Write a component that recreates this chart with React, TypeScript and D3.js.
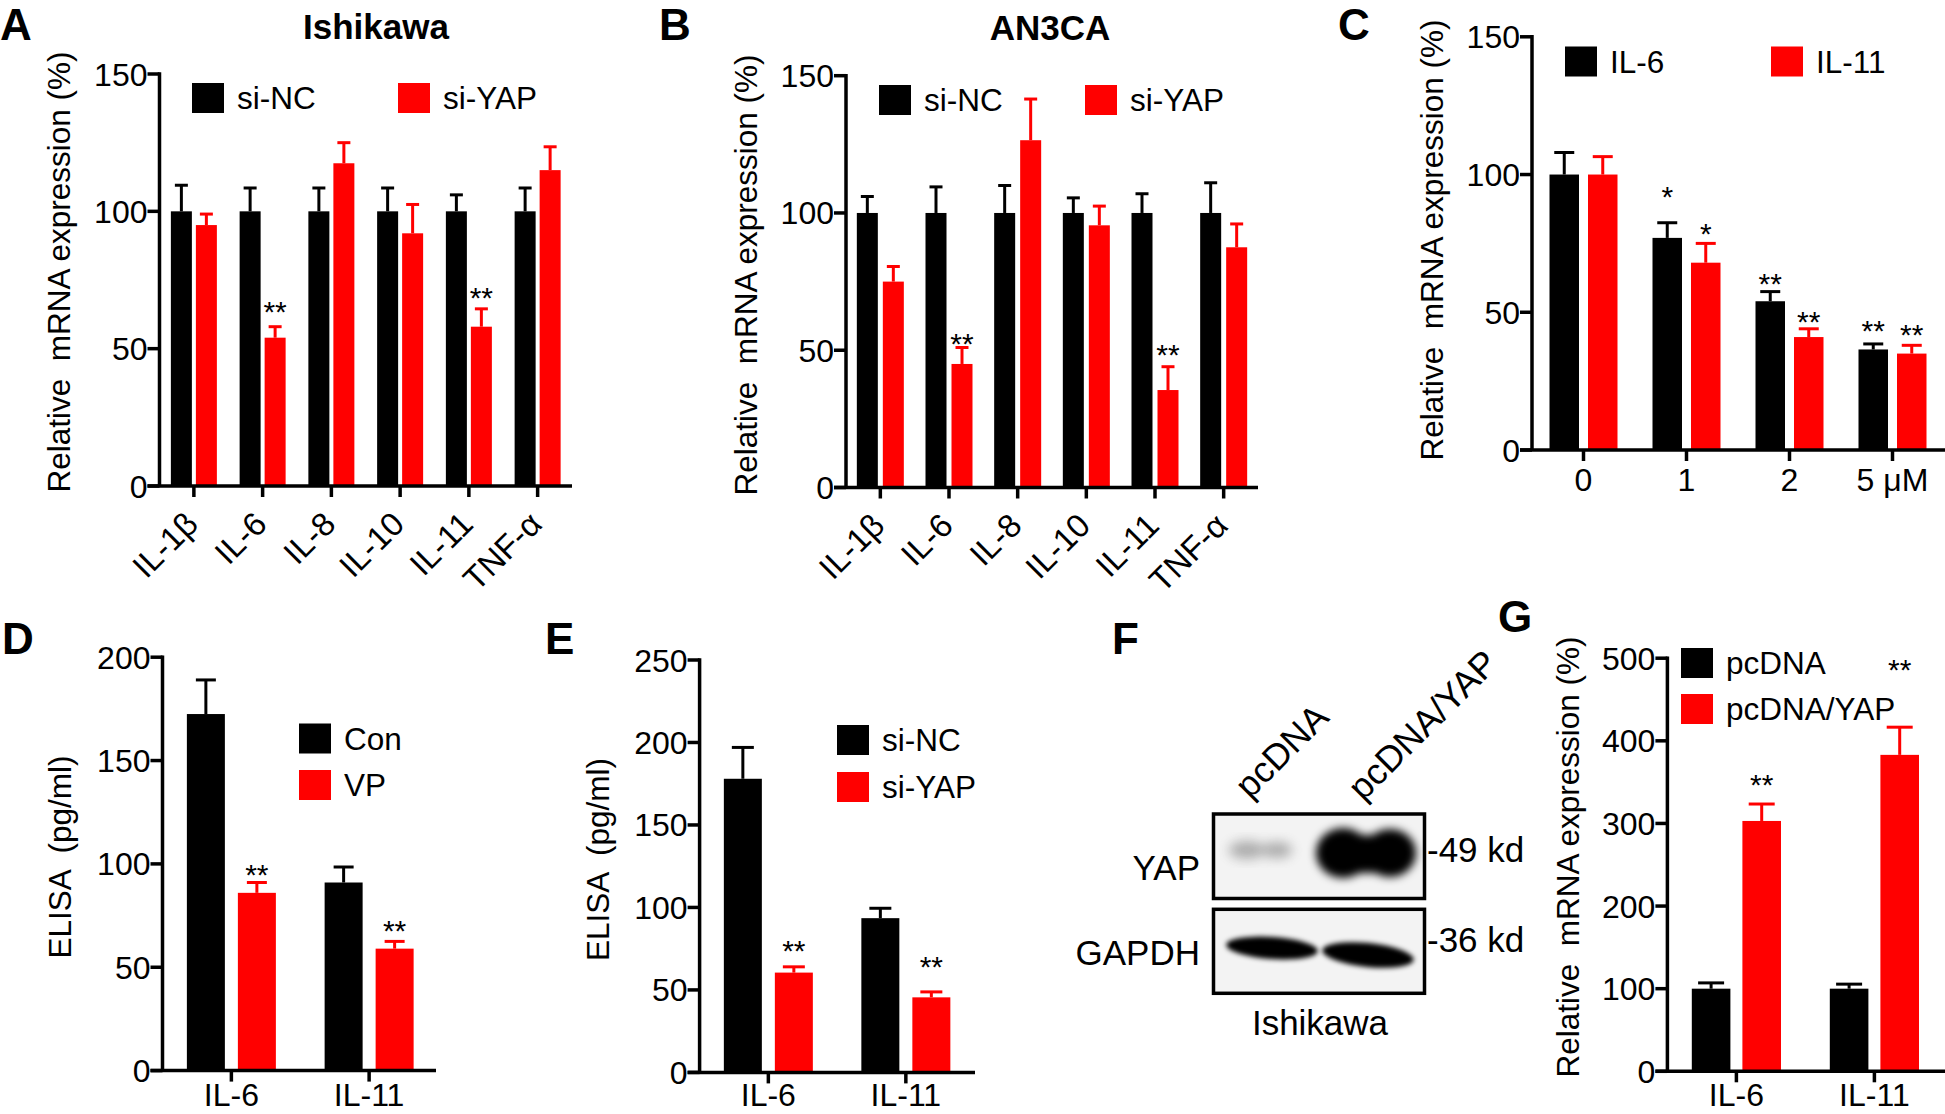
import React from "react";
import * as d3 from "d3";

const FONT = "'Liberation Sans', Arial, Helvetica, sans-serif";
const BLACK = "#000000";
const RED = "#ff0000";

// ---------- Panel A (Ishikawa) ----------
const cytokines = ["IL-1β", "IL-6", "IL-8", "IL-10", "IL-11", "TNF-α"];
const ishNC = [100, 100, 100, 100, 100, 100];
const ishNCErr = [9.5, 8.5, 8.5, 8.5, 6, 8.5];
const ishYAP = [95, 54, 117.5, 92, 58, 115];
const ishYAPErr = [4, 4, 7.5, 10.5, 6.5, 8.5];
const ishYAPSig = ["", "**", "", "", "**", ""];
const ishYAPSigLevel = [0, 66, 0, 0, 71, 0];

// ---------- Panel B (AN3CA) ----------
const anNC = [100, 100, 100, 100, 100, 100];
const anNCErr = [6, 9.5, 10, 5.5, 7, 11];
const anYAP = [75, 45, 126.5, 95.5, 35.5, 87.5];
const anYAPErr = [5.5, 6, 15, 7, 8.5, 8.5];
const anYAPSig = ["", "**", "", "", "**", ""];
const anYAPSigLevel = [0, 55, 0, 0, 51, 0];

// ---------- Panel C (dose) ----------
const doses = ["0", "1", "2", "5 μM"];
const doseIL6 = [100, 77, 54, 36.5];
const doseIL6Err = [8, 5.5, 3.5, 2];
const doseIL6Sig = ["", "*", "**", "**"];
const doseIL6SigLevel = [0, 94.6, 62.9, 46];
const doseIL11 = [100, 68, 41, 35];
const doseIL11Err = [6.5, 7, 3, 3];
const doseIL11Sig = ["", "*", "**", "**"];
const doseIL11SigLevel = [0, 81, 49.3, 44.3];

// ---------- Panel D (ELISA, VP) ----------
const elisaCats = ["IL-6", "IL-11"];
const dCon = [172.5, 91];
const dConErr = [16.5, 7.5];
const dVP = [86, 59];
const dVPErr = [5, 3.5];
const dVPSig = ["**", "**"];
const dVPSigLevel = [98.3, 71.3];

// ---------- Panel E (ELISA, siRNA) ----------
const eNC = [178, 93.5];
const eNCErr = [19, 6];
const eYAP = [60.5, 45.5];
const eYAPErr = [3.5, 3.3];
const eYAPSig = ["**", "**"];
const eYAPSigLevel = [78.2, 68.5];

// ---------- Panel G (overexpression) ----------
const gPc = [100, 100];
const gPcErr = [7, 5.5];
const gYAP = [303, 383];
const gYAPErr = [20.5, 33.5];
const gYAPSig = ["**", "**"];
const gYAPSigLevel = [356, 495];

const ticks150 = [0, 50, 100, 150];
const ticks200 = [0, 50, 100, 150, 200];
const ticks250 = [0, 50, 100, 150, 200, 250];
const ticks500 = [0, 100, 200, 300, 400, 500];

type Series = {
  values: number[];
  errs: number[];
  color: string;
  sig?: string[];
  sigLevel?: number[];
};

type PanelProps = {
  cats: string[];
  series: Series[];
  yMax: number;
  yTicks: number[];
  axisX: number;
  top: number;
  bottom: number;
  bandEnd: number;
  lineEnd: number;
  barW: number;
  gap: number;
  cap: number;
  rotate?: boolean;
  labelBaseline?: number;
  fs?: number;
};

function BarPanel(p: PanelProps) {
  const fs = p.fs ?? 32;
  const y = d3.scaleLinear().domain([0, p.yMax]).range([p.bottom, p.top]);
  const x = d3.scaleBand<string>().domain(p.cats).range([p.axisX, p.bandEnd]);
  const half = p.barW + p.gap / 2;
  const inner = d3
    .scaleBand<string>()
    .domain(p.series.map((_, i) => String(i)))
    .range([-half, half])
    .paddingInner(p.gap / (p.barW + p.gap));
  const sw = 3.5;
  return (
    <g>
      {p.series.map((s, si) =>
        p.cats.map((c, ci) => {
          const bx = (x(c) as number) + x.bandwidth() / 2 + (inner(String(si)) as number);
          const cx = bx + p.barW / 2;
          const v = s.values[ci];
          const e = s.errs[ci];
          const sig = s.sig ? s.sig[ci] : "";
          return (
            <g key={`${si}-${ci}`}>
              <line x1={cx} x2={cx} y1={y(v)} y2={y(v + e)} stroke={s.color} strokeWidth={3} />
              <line x1={cx - p.cap / 2} x2={cx + p.cap / 2} y1={y(v + e)} y2={y(v + e)} stroke={s.color} strokeWidth={3} />
              <rect x={bx} y={y(v)} width={p.barW} height={y(0) - y(v)} fill={s.color} />
              {sig ? (
                <text
                  x={cx}
                  y={y(s.sigLevel![ci]) + 0.58 * 30}
                  fontSize={30}
                  textAnchor="middle"
                  fontFamily={FONT}
                >
                  {sig}
                </text>
              ) : null}
            </g>
          );
        })
      )}
      {/* axes */}
      <line x1={p.axisX} x2={p.axisX} y1={p.top - sw / 2} y2={p.bottom} stroke="#000" strokeWidth={sw} />
      <line x1={p.axisX - 12} x2={p.lineEnd} y1={p.bottom} y2={p.bottom} stroke="#000" strokeWidth={sw} />
      {p.yTicks.map((t) => (
        <g key={t}>
          <line x1={p.axisX - 12} x2={p.axisX} y1={y(t)} y2={y(t)} stroke="#000" strokeWidth={sw} />
          <text x={p.axisX - 12} y={y(t)} dy="0.36em" textAnchor="end" fontSize={fs} fontFamily={FONT}>
            {t}
          </text>
        </g>
      ))}
      {p.cats.map((c) => {
        const cx = (x(c) as number) + x.bandwidth() / 2;
        return (
          <g key={c}>
            <line x1={cx} x2={cx} y1={p.bottom} y2={p.bottom + 11} stroke="#000" strokeWidth={sw} />
            {p.rotate ? (
              <text
                transform={`translate(${cx + 6},${p.bottom + 40}) rotate(-45)`}
                textAnchor="end"
                fontSize={33}
                fontFamily={FONT}
              >
                {c}
              </text>
            ) : (
              <text x={cx} y={p.labelBaseline} textAnchor="middle" fontSize={fs} fontFamily={FONT}>
                {c}
              </text>
            )}
          </g>
        );
      })}
    </g>
  );
}

function LegendItem({ x, y, color, label }: { x: number; y: number; color: string; label: string }) {
  return (
    <g>
      <rect x={x} y={y} width={32} height={30} fill={color} />
      <text x={x + 45} y={y + 15} dy="0.36em" fontSize={31.5} fontFamily={FONT}>
        {label}
      </text>
    </g>
  );
}

function YLabel({ x, cy, text }: { x: number; cy: number; text: string }) {
  return (
    <text
      transform={`translate(${x},${cy}) rotate(-90)`}
      textAnchor="middle"
      fontSize={31.5}
      fontFamily={FONT}
      style={{ whiteSpace: "pre" }}
    >
      {text}
    </text>
  );
}

function PanelLetter({ x, y, t }: { x: number; y: number; t: string }) {
  return (
    <text x={x} y={y} fontSize={44} fontWeight="bold" fontFamily={FONT}>
      {t}
    </text>
  );
}

function Blot() {
  const fs = 35;
  return (
    <g>
      <defs>
        <filter id="blur4" x="-50%" y="-50%" width="200%" height="200%">
          <feGaussianBlur stdDeviation="4" />
        </filter>
        <filter id="blur6" x="-50%" y="-50%" width="200%" height="200%">
          <feGaussianBlur stdDeviation="6" />
        </filter>
        <filter id="blur3" x="-50%" y="-50%" width="200%" height="200%">
          <feGaussianBlur stdDeviation="2.5" />
        </filter>
        <clipPath id="clipYAP">
          <rect x={1213.5} y={814} width={211} height={84.5} />
        </clipPath>
        <clipPath id="clipGAP">
          <rect x={1213.5} y={909.3} width={211} height={84} />
        </clipPath>
      </defs>
      {/* YAP box */}
      <rect x={1213.5} y={814} width={211} height={84.5} fill="#f3f3f3" />
      <g clipPath="url(#clipYAP)">
        <g filter="url(#blur6)" opacity={0.45}>
          <ellipse cx={1247} cy={850} rx={18} ry={9} fill="#555" />
          <ellipse cx={1277} cy={850} rx={15} ry={8} fill="#555" />
        </g>
        <g filter="url(#blur4)">
          <ellipse cx={1343} cy={853} rx={27} ry={25} fill="#000" />
          <ellipse cx={1390} cy={853} rx={26} ry={24} fill="#000" />
          <rect x={1340} y={835} width={52} height={38} fill="#000" />
        </g>
      </g>
      <rect x={1213.5} y={814} width={211} height={84.5} fill="none" stroke="#000" strokeWidth={3.5} />
      {/* GAPDH box */}
      <rect x={1213.5} y={909.3} width={211} height={84} fill="#f3f3f3" />
      <g clipPath="url(#clipGAP)" filter="url(#blur3)">
        <ellipse cx={1272} cy={948} rx={46} ry={11} fill="#000" transform="rotate(4 1272 948)" />
        <ellipse cx={1368} cy={955} rx={46} ry={12} fill="#000" transform="rotate(6 1368 955)" />
      </g>
      <rect x={1213.5} y={909.3} width={211} height={84} fill="none" stroke="#000" strokeWidth={3.5} />
      <text x={1200} y={880} textAnchor="end" fontSize={fs} fontFamily={FONT}>YAP</text>
      <text x={1200} y={965} textAnchor="end" fontSize={fs} fontFamily={FONT}>GAPDH</text>
      <text x={1427} y={862} fontSize={fs} fontFamily={FONT}>-49 kd</text>
      <text x={1427} y={952} fontSize={fs} fontFamily={FONT}>-36 kd</text>
      <text x={1320} y={1035} textAnchor="middle" fontSize={fs} fontFamily={FONT}>Ishikawa</text>
      <text transform="translate(1250,800) rotate(-45)" fontSize={36} fontFamily={FONT}>pcDNA</text>
      <text transform="translate(1363,802) rotate(-45)" fontSize={36} fontFamily={FONT}>pcDNA/YAP</text>
    </g>
  );
}

export default function App() {
  const mrna = "Relative  mRNA expression (%)";
  return (
    <div style={{ position: "absolute", left: 0, top: 0 }}>
      <svg width={1945} height={1114} viewBox="0 0 1945 1114" style={{ display: "block", background: "#fff" }}>
        <rect width={1945} height={1114} fill="#fff" />
        {/* A */}
        <PanelLetter x={0} y={40} t="A" />
        <text x={376} y={39} textAnchor="middle" fontSize={35} fontWeight="bold" fontFamily={FONT}>Ishikawa</text>
        <YLabel x={70} cy={272} text={mrna} />
        <BarPanel
          cats={cytokines}
          series={[
            { values: ishNC, errs: ishNCErr, color: BLACK },
            { values: ishYAP, errs: ishYAPErr, color: RED, sig: ishYAPSig, sigLevel: ishYAPSigLevel },
          ]}
          yMax={150}
          yTicks={ticks150}
          axisX={159.5}
          top={74}
          bottom={486}
          bandEnd={572}
          lineEnd={572}
          barW={21}
          gap={4}
          cap={13}
          rotate
        />
        <LegendItem x={192} y={83} color={BLACK} label="si-NC" />
        <LegendItem x={398} y={83} color={RED} label="si-YAP" />

        {/* B */}
        <PanelLetter x={659} y={40} t="B" />
        <text x={1050} y={40} textAnchor="middle" fontSize={35} fontWeight="bold" fontFamily={FONT}>AN3CA</text>
        <YLabel x={757} cy={275} text={mrna} />
        <BarPanel
          cats={cytokines}
          series={[
            { values: anNC, errs: anNCErr, color: BLACK },
            { values: anYAP, errs: anYAPErr, color: RED, sig: anYAPSig, sigLevel: anYAPSigLevel },
          ]}
          yMax={150}
          yTicks={ticks150}
          axisX={846}
          top={75.7}
          bottom={487.5}
          bandEnd={1258}
          lineEnd={1258}
          barW={21}
          gap={5}
          cap={13}
          rotate
        />
        <LegendItem x={879} y={85} color={BLACK} label="si-NC" />
        <LegendItem x={1085} y={85} color={RED} label="si-YAP" />

        {/* C */}
        <PanelLetter x={1338} y={40} t="C" />
        <YLabel x={1443} cy={240} text={mrna} />
        <BarPanel
          cats={doses}
          series={[
            { values: doseIL6, errs: doseIL6Err, color: BLACK, sig: doseIL6Sig, sigLevel: doseIL6SigLevel },
            { values: doseIL11, errs: doseIL11Err, color: RED, sig: doseIL11Sig, sigLevel: doseIL11SigLevel },
          ]}
          yMax={150}
          yTicks={ticks150}
          axisX={1532}
          top={36.8}
          bottom={450}
          bandEnd={1944}
          lineEnd={1945}
          barW={29.5}
          gap={9}
          cap={20}
          labelBaseline={491}
        />
        <LegendItem x={1565} y={46.5} color={BLACK} label="IL-6" />
        <LegendItem x={1771} y={46.5} color={RED} label="IL-11" />

        {/* D */}
        <PanelLetter x={2} y={654} t="D" />
        <YLabel x={71} cy={857} text="ELISA  (pg/ml)" />
        <BarPanel
          cats={elisaCats}
          series={[
            { values: dCon, errs: dConErr, color: BLACK },
            { values: dVP, errs: dVPErr, color: RED, sig: dVPSig, sigLevel: dVPSigLevel },
          ]}
          yMax={200}
          yTicks={ticks200}
          axisX={162.5}
          top={657.2}
          bottom={1070.6}
          bandEnd={438}
          lineEnd={436}
          barW={38}
          gap={13}
          cap={20}
          labelBaseline={1106}
        />
        <LegendItem x={299} y={723.5} color={BLACK} label="Con" />
        <LegendItem x={299} y={770} color={RED} label="VP" />

        {/* E */}
        <PanelLetter x={545} y={654} t="E" />
        <YLabel x={609} cy={859.5} text="ELISA  (pg/ml)" />
        <BarPanel
          cats={elisaCats}
          series={[
            { values: eNC, errs: eNCErr, color: BLACK },
            { values: eYAP, errs: eYAPErr, color: RED, sig: eYAPSig, sigLevel: eYAPSigLevel },
          ]}
          yMax={250}
          yTicks={ticks250}
          axisX={699.6}
          top={660}
          bottom={1072.4}
          bandEnd={974.6}
          lineEnd={975}
          barW={38}
          gap={13}
          cap={22}
          labelBaseline={1106}
        />
        <LegendItem x={837} y={725} color={BLACK} label="si-NC" />
        <LegendItem x={837} y={772} color={RED} label="si-YAP" />

        {/* F */}
        <PanelLetter x={1112} y={654} t="F" />
        <Blot />

        {/* G */}
        <PanelLetter x={1498} y={632} t="G" />
        <YLabel x={1579} cy={857} text={mrna} />
        <BarPanel
          cats={elisaCats}
          series={[
            { values: gPc, errs: gPcErr, color: BLACK },
            { values: gYAP, errs: gYAPErr, color: RED, sig: gYAPSig, sigLevel: gYAPSigLevel },
          ]}
          yMax={500}
          yTicks={ticks500}
          axisX={1667.4}
          top={658.2}
          bottom={1071.3}
          bandEnd={1943.4}
          lineEnd={1945}
          barW={38.6}
          gap={12}
          cap={26}
          labelBaseline={1106}
        />
        <LegendItem x={1681} y={648} color={BLACK} label="pcDNA" />
        <LegendItem x={1681} y={694} color={RED} label="pcDNA/YAP" />
      </svg>
    </div>
  );
}
